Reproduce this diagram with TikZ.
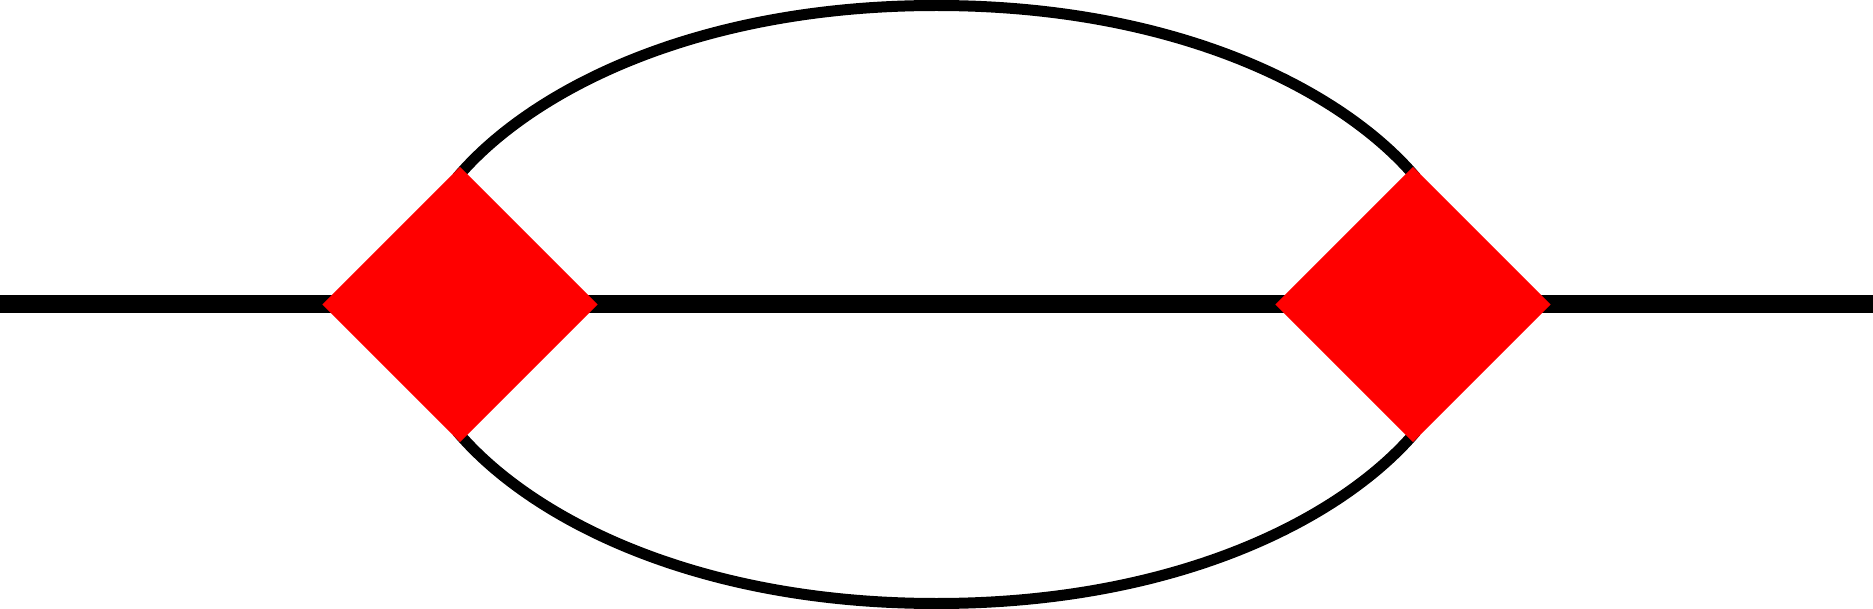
\documentclass[tikz,border=0pt]{standalone}
\usetikzlibrary{shapes.geometric,calc}
\pgfdeclarelayer{background}
\pgfsetlayers{background,main}
\tikzset{
  vertex/.style={diamond, aspect=1, fill=red, draw=none, inner sep=0pt, minimum width=2.76cm, minimum height=2.76cm},
  prop/.style={draw=black, line width=0.18cm},
  loopline/.style={draw=black, line width=0.11cm}
}
\begin{document}
\begin{tikzpicture}
\useasboundingbox (0,-3.045) rectangle (18.73,3.045);
\coordinate (L) at (0,0);
\coordinate (R) at (18.73,0);
\node[vertex] (v1) at (4.60,0) {};
\node[vertex] (v2) at (14.13,0) {};
\begin{pgfonlayer}{background}
\draw[prop] (L) -- (v1.center) -- (v2.center) -- (R);
\draw[loopline] ($(v1.north)+(-0.029,-0.117)$)
  .. controls (5.31,2.144) and (6.965,2.99) .. (9.365,2.99)
  .. controls (11.765,2.99) and (13.42,2.144) .. ($(v2.north)+(0.029,-0.117)$);
\draw[loopline] ($(v1.south)+(-0.029,0.117)$)
  .. controls (5.31,-2.144) and (6.965,-2.99) .. (9.365,-2.99)
  .. controls (11.765,-2.99) and (13.42,-2.144) .. ($(v2.south)+(0.029,0.117)$);
\end{pgfonlayer}
\end{tikzpicture}
\end{document}
